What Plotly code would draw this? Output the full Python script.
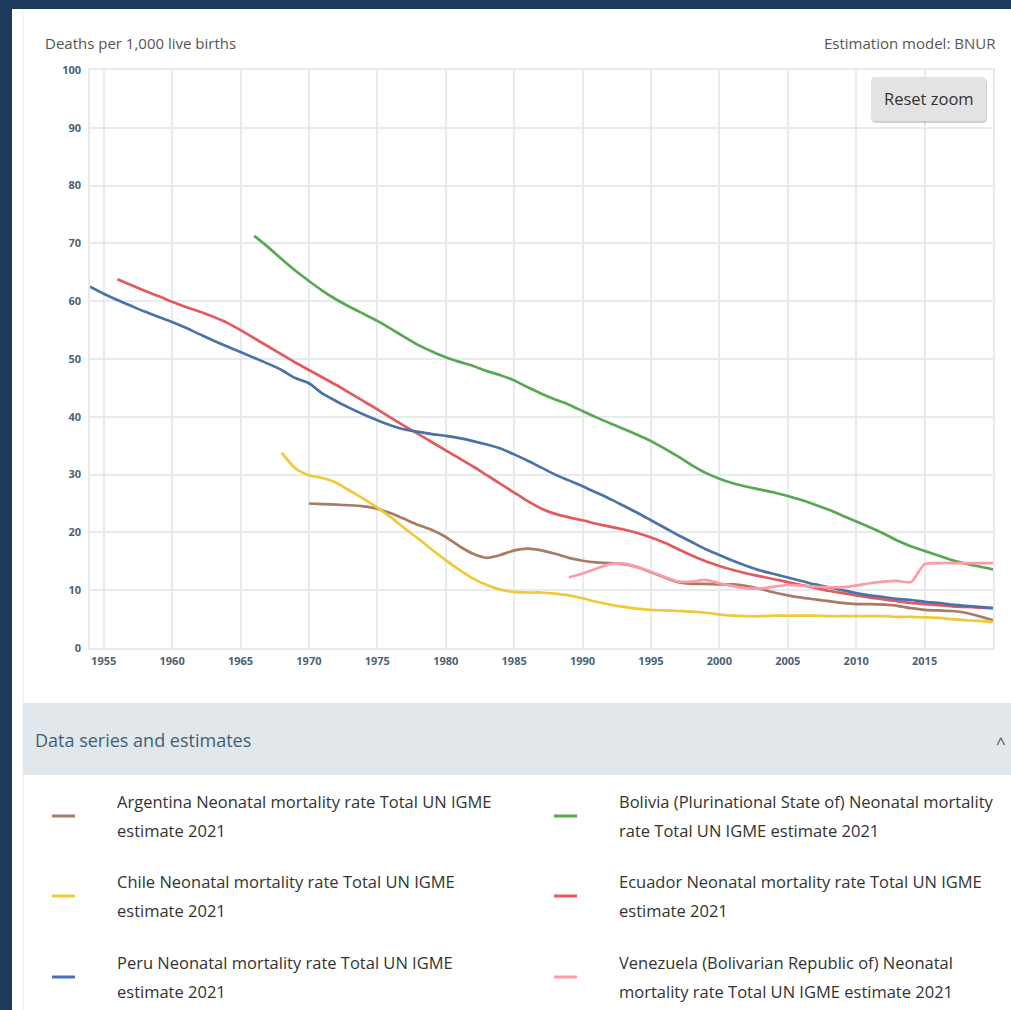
import plotly.graph_objects as go

W, H = 1011, 1010

# ---------------- data ----------------
peru_years = list(range(1954, 2021))
peru = [62.5, 61.3, 60.2, 59.2, 58.2, 57.3, 56.4, 55.4, 54.3, 53.2, 52.2, 51.2, 50.2, 49.2, 48.1, 46.7,
        45.8, 44.0, 42.7, 41.5, 40.4, 39.4, 38.5, 37.8, 37.4, 37.0, 36.7, 36.3, 35.8, 35.2, 34.5, 33.5,
        32.4, 31.2, 30.0, 29.0, 28.0, 26.9, 25.8, 24.6, 23.4, 22.1, 20.8, 19.5, 18.3, 17.1, 16.1, 15.1,
        14.2, 13.4, 12.8, 12.2, 11.6, 11.0, 10.5, 10.0, 9.5, 9.1, 8.8, 8.5, 8.3, 8.0, 7.8, 7.5, 7.3, 7.1, 6.9]

ecuador_years = list(range(1956, 2021))
ecuador = [63.8, 62.8, 61.8, 60.9, 59.9, 59.0, 58.2, 57.3, 56.3, 55.0, 53.6, 52.2, 50.8, 49.4, 48.1,
           46.8, 45.5, 44.1, 42.7, 41.3, 39.8, 38.4, 37.0, 35.6, 34.2, 32.8, 31.4, 29.9, 28.4, 26.9,
           25.4, 24.1, 23.2, 22.6, 22.1, 21.5, 21.0, 20.5, 19.9, 19.1, 18.2, 17.1, 16.0, 15.0, 14.2,
           13.5, 12.9, 12.4, 11.9, 11.4, 10.9, 10.4, 9.9, 9.5, 9.1, 8.7, 8.4, 8.1, 7.8, 7.6, 7.4, 7.2,
           7.1, 7.0, 6.9]

bolivia_years = list(range(1966, 2021))
bolivia = [71.3, 69.4, 67.3, 65.3, 63.5, 61.8, 60.3, 59.0, 57.8, 56.6, 55.2, 53.8, 52.4, 51.3, 50.3,
           49.5, 48.8, 47.9, 47.2, 46.3, 45.1, 44.0, 43.0, 42.1, 41.0, 39.9, 38.9, 37.9, 36.9, 35.8,
           34.5, 33.1, 31.6, 30.3, 29.3, 28.5, 27.9, 27.4, 26.9, 26.3, 25.6, 24.8, 23.9, 22.9, 21.9,
           20.9, 19.8, 18.6, 17.6, 16.8, 16.0, 15.2, 14.6, 14.1, 13.6]

chile_years = list(range(1968, 2021))
chile = [33.8, 31.1, 29.9, 29.4, 28.6, 27.2, 25.8, 24.3, 22.6, 20.7, 18.9, 17.0, 15.2, 13.5, 12.0,
         10.9, 10.1, 9.7, 9.6, 9.6, 9.4, 9.1, 8.6, 8.0, 7.5, 7.1, 6.8, 6.6, 6.5, 6.4, 6.3, 6.1, 5.8,
         5.6, 5.5, 5.5, 5.6, 5.6, 5.6, 5.6, 5.5, 5.5, 5.5, 5.5, 5.5, 5.4, 5.4, 5.3, 5.2, 5.0, 4.8,
         4.7, 4.5]

argentina_years = list(range(1970, 2021))
argentina = [25.0, 24.9, 24.8, 24.7, 24.5, 24.1, 23.3, 22.3, 21.3, 20.4, 19.2, 17.6, 16.3, 15.6, 16.1,
             16.9, 17.2, 16.9, 16.3, 15.6, 15.1, 14.8, 14.7, 14.5, 14.0, 13.1, 12.2, 11.4, 11.1, 11.1,
             11.0, 11.0, 10.7, 10.2, 9.6, 9.1, 8.7, 8.4, 8.1, 7.8, 7.6, 7.6, 7.5, 7.3, 6.9, 6.6, 6.5,
             6.4, 6.1, 5.5, 4.8]

venezuela_years = list(range(1989, 2021))
venezuela = [12.2, 12.9, 13.7, 14.5, 14.6, 14.0, 13.2, 12.3, 11.5, 11.5, 11.8, 11.2, 10.7, 10.3, 10.3,
             10.6, 10.9, 10.8, 10.6, 10.5, 10.5, 10.8, 11.2, 11.5, 11.6, 11.4, 14.5, 14.7, 14.7, 14.7,
             14.7, 14.7]

x_ticks = [1955, 1960, 1965, 1970, 1975, 1980, 1985, 1990, 1995, 2000, 2005, 2010, 2015]
y_ticks = [0, 10, 20, 30, 40, 50, 60, 70, 80, 90, 100]

series_names = [
    "Argentina Neonatal mortality rate Total UN IGME estimate 2021",
    "Bolivia (Plurinational State of) Neonatal mortality rate Total UN IGME estimate 2021",
    "Chile Neonatal mortality rate Total UN IGME estimate 2021",
    "Ecuador Neonatal mortality rate Total UN IGME estimate 2021",
    "Peru Neonatal mortality rate Total UN IGME estimate 2021",
    "Venezuela (Bolivarian Republic of) Neonatal mortality rate Total UN IGME estimate 2021",
]
legend_lines = [
    ["Argentina Neonatal mortality rate Total UN IGME", "estimate 2021"],
    ["Bolivia (Plurinational State of) Neonatal mortality", "rate Total UN IGME estimate 2021"],
    ["Chile Neonatal mortality rate Total UN IGME", "estimate 2021"],
    ["Ecuador Neonatal mortality rate Total UN IGME", "estimate 2021"],
    ["Peru Neonatal mortality rate Total UN IGME", "estimate 2021"],
    ["Venezuela (Bolivarian Republic of) Neonatal", "mortality rate Total UN IGME estimate 2021"],
]
colors = ["#a87b64", "#58a84f", "#f0c93a", "#e35a5e", "#4a72a8", "#ff9aa8"]

all_series = [
    (argentina_years, argentina),
    (bolivia_years, bolivia),
    (chile_years, chile),
    (ecuador_years, ecuador),
    (peru_years, peru),
    (venezuela_years, venezuela),
]

# ---------------- helpers (pixel -> paper) ----------------
def px(x):
    return x / W

def py(y):
    return 1 - y / H

fig = go.Figure()
for (xs, ys), name, c in zip(all_series, series_names, colors):
    fig.add_trace(go.Scatter(x=xs, y=ys, mode="lines", name=name,
                             line=dict(color=c, width=2.7, shape="spline", smoothing=0.6),
                             showlegend=False, hoverinfo="x+y+name"))

grid = "#e6ebee"
tickfont = dict(family="Open Sans, Arial, sans-serif", size=11, color="#4b6275")

fig.update_layout(
    width=W, height=H,
    margin=dict(l=0, r=0, t=0, b=0, autoexpand=False),
    paper_bgcolor="#1b3a5c",
    plot_bgcolor="white",
    xaxis=dict(domain=[px(90), px(993)], range=[1954, 2020], tickvals=x_ticks,
               ticktext=[f"<b>{t}</b>" for t in x_ticks], automargin=False,
               showgrid=True, gridcolor=grid, gridwidth=1.5,
               showline=True, linecolor=grid, linewidth=1.5, mirror=True,
               zeroline=False, tickfont=tickfont, ticks="", ticklen=0, ticklabelstandoff=2),
    yaxis=dict(domain=[py(648), py(70)], range=[0, 100], tickvals=y_ticks,
               ticktext=[f"<b>{t}</b>" for t in y_ticks], automargin=False,
               showgrid=True, gridcolor=grid, gridwidth=1.5,
               showline=True, linecolor=grid, linewidth=1.5, mirror=True,
               zeroline=False, tickfont=tickfont, ticks="", ticklen=0, ticklabelstandoff=5),
    font=dict(family="Open Sans, sans-serif"),
)

shapes = []
# white panel
shapes.append(dict(type="rect", xref="paper", yref="paper", x0=px(12), x1=1.0, y0=0.0, y1=py(9),
                   fillcolor="white", line=dict(width=0), layer="below"))
# faint container line
shapes.append(dict(type="line", xref="paper", yref="paper", x0=px(23), x1=px(23), y0=0.0, y1=py(9),
                   line=dict(color="#e8ebed", width=1), layer="below"))
# legend header bar
shapes.append(dict(type="rect", xref="paper", yref="paper", x0=px(23), x1=1.0, y0=py(775), y1=py(703),
                   fillcolor="#e1e7ea", line=dict(width=0), layer="below"))

# Reset zoom button (rounded rect)
bx0, bx1, by0, by1, r = 871, 986, 77, 121, 4

def rrect(x0, x1, y0, y1, r):
    return (f"M {px(x0 + r)},{py(y0)} L {px(x1 - r)},{py(y0)} "
            f"Q {px(x1)},{py(y0)} {px(x1)},{py(y0 + r)} L {px(x1)},{py(y1 - r)} "
            f"Q {px(x1)},{py(y1)} {px(x1 - r)},{py(y1)} L {px(x0 + r)},{py(y1)} "
            f"Q {px(x0)},{py(y1)} {px(x0)},{py(y1 - r)} L {px(x0)},{py(y0 + r)} "
            f"Q {px(x0)},{py(y0)} {px(x0 + r)},{py(y0)} Z")

shapes.append(dict(type="path", xref="paper", yref="paper", path=rrect(bx0 + 1, bx1 + 1, by0 + 2, by1 + 2, r),
                   fillcolor="rgba(0,0,0,0.18)", line=dict(width=0), layer="above"))
shapes.append(dict(type="path", xref="paper", yref="paper", path=rrect(bx0, bx1, by0, by1, r),
                   fillcolor="#e3e3e3", line=dict(width=0), layer="above"))

annotations = []
annotations.append(dict(text="Reset zoom", xref="paper", yref="paper", x=px((bx0 + bx1) / 2), y=py((by0 + by1) / 2),
                        xanchor="center", yanchor="middle", showarrow=False,
                        font=dict(family="Open Sans, sans-serif", size=16.5, color="#333333")))
annotations.append(dict(text="Deaths per 1,000 live births", xref="paper", yref="paper", x=px(43), y=py(43),
                        xanchor="left", yanchor="middle", showarrow=False,
                        font=dict(family="Open Sans, sans-serif", size=15, color="#555555")))
annotations.append(dict(text="Estimation model: BNUR", xref="paper", yref="paper", x=px(998), y=py(43),
                        xanchor="right", yanchor="middle", showarrow=False,
                        font=dict(family="Open Sans, sans-serif", size=15, color="#555555")))
annotations.append(dict(text="Data series and estimates", xref="paper", yref="paper", x=px(33), y=py(740),
                        xanchor="left", yanchor="middle", showarrow=False,
                        font=dict(family="Open Sans, sans-serif", size=18, color="#3d6275")))
annotations.append(dict(text="^", xref="paper", yref="paper", x=px(1001), y=py(742),
                        xanchor="center", yanchor="middle", showarrow=False,
                        font=dict(family="Open Sans, sans-serif", size=17, color="#555555")))

# legend rows
row_y = [816, 896, 977]
col_sw = [52, 554]
col_tx = [115, 617]
for i, (lines, c) in enumerate(zip(legend_lines, colors)):
    row, col = divmod(i, 2)
    yc = row_y[row]
    shapes.append(dict(type="line", xref="paper", yref="paper", x0=px(col_sw[col]), x1=px(col_sw[col] + 23),
                       y0=py(yc), y1=py(yc), line=dict(color=c, width=3)))
    annotations.append(dict(text=lines[0], xref="paper", yref="paper", x=px(col_tx[col]), y=py(yc - 15),
                            xanchor="left", yanchor="middle", showarrow=False,
                            font=dict(family="Open Sans, sans-serif", size=16.5, color="#333333")))
    annotations.append(dict(text=lines[1], xref="paper", yref="paper", x=px(col_tx[col]), y=py(yc + 14),
                            xanchor="left", yanchor="middle", showarrow=False,
                            font=dict(family="Open Sans, sans-serif", size=16.5, color="#333333")))

fig.update_layout(shapes=shapes, annotations=annotations)
fig.write_html("out.html", config={"displayModeBar": False},
               post_script=("document.body.style.margin='0';document.body.style.overflow='hidden';"
                            "document.documentElement.style.overflow='hidden';"
                            "var d=document.getElementById('{plot_id}');"
                            "d.style.position='fixed';d.style.top='0px';d.style.left='0px';"))
